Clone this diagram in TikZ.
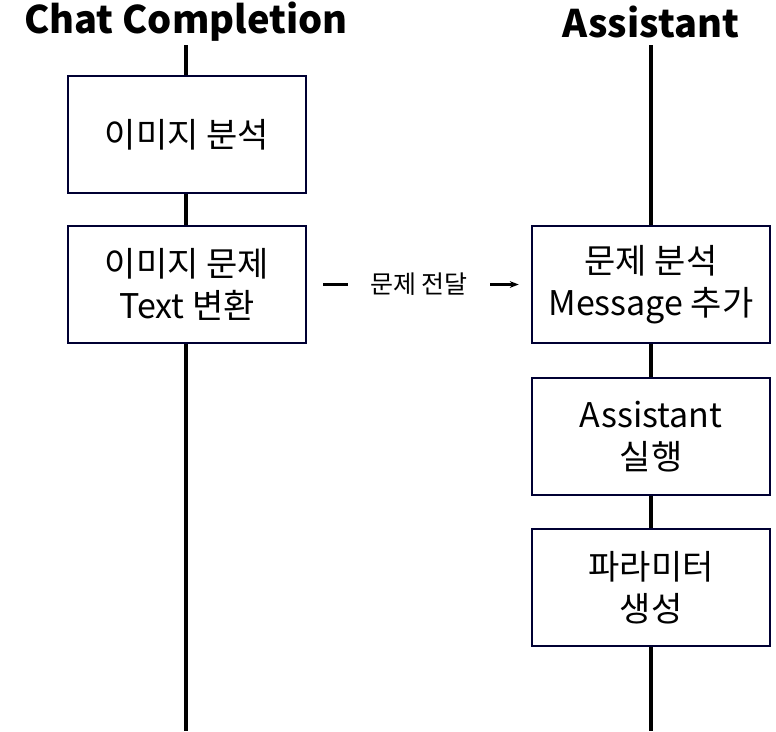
\documentclass[tikz,border=0pt]{standalone}
\usepackage{fontspec}
\setmainfont{Noto Sans CJK KR}
\usetikzlibrary{arrows.meta}
\tikzset{
  stepbox/.style={draw=black!80!blue, line width=2.5pt, fill=white, minimum width=238pt, minimum height=117pt, align=center, font=\fontsize{34}{42}\selectfont},
  lifeline/.style={line width=4pt},
  heading/.style={font=\fontsize{38}{42}\selectfont\bfseries}
}
\begin{document}
\begin{tikzpicture}[x=1pt,y=-1pt]
			\useasboundingbox (0,0) rectangle (776,731);
			% -- Lifelines --
			\draw[lifeline] (186,45) -- (186,731);
			\draw[lifeline] (651,45) -- (651,731);
			\node[heading] (chat) at (186,22) {Chat Completion};
			\node[heading] (asst) at (651,22) {Assistant};
			
			% -- Chat Completion steps --
			\node[stepbox] (analyze) at (187,134.5) {이미지 분석};
			\node[stepbox] (convert) at (187,284.5) {이미지 문제\\Text 변환};
			
			% -- Assistant steps --
			\node[stepbox] (message) at (651,284.5) {문제 분석\\Message 추가};
			\node[stepbox] (run) at (651,436.5) {Assistant\\실행};
			\node[stepbox] (param) at (651,587.5) {파라미터\\생성};
			
			% -- Hand-over --
			\draw[-{Stealth[length=9pt]}, line width=2.5pt, shorten <=16pt, shorten >=12pt] (convert) -- node[fill=white, inner xsep=22pt, font=\fontsize{25}{28}\selectfont] (pass) {문제 전달} (message);
		\end{tikzpicture}
\end{document}
